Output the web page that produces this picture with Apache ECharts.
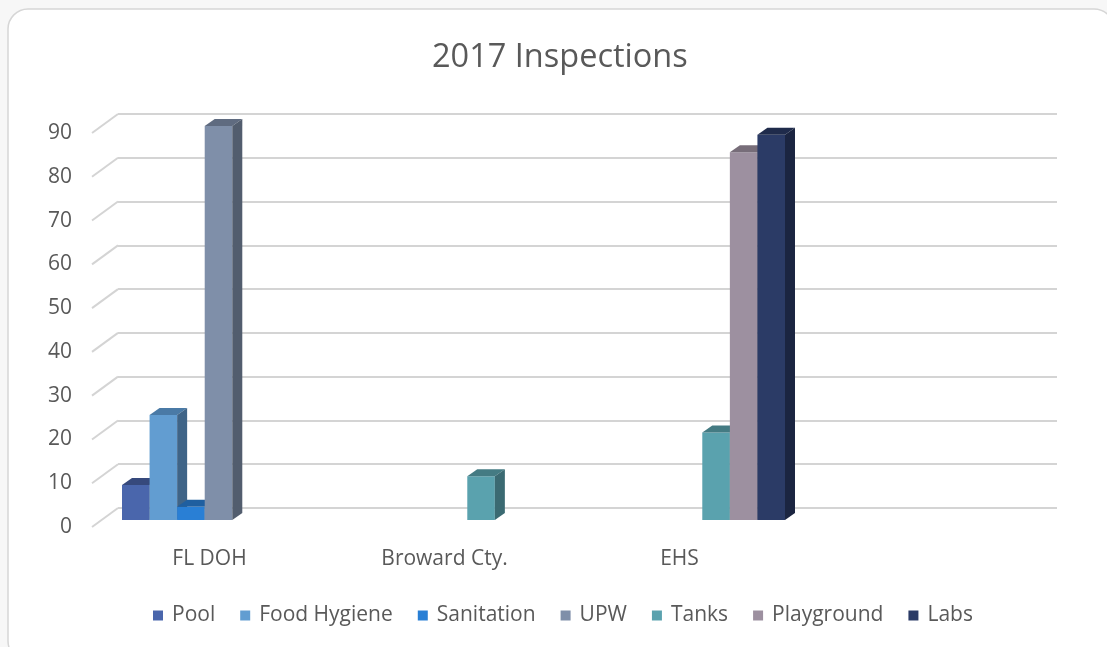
<!DOCTYPE html>
<html>
<head>
<meta charset="utf-8">
<title>2017 Inspections</title>
<script src="https://cdn.jsdelivr.net/npm/echarts@6/dist/echarts.min.js"></script>
<style>
  html, body { margin: 0; padding: 0; background: #f7f7f7; }
  #chart { width: 1107px; height: 647px; }
</style>
</head>
<body>
<div id="chart"></div>
<script>
// 数据
const categories = ['FL DOH', 'Broward Cty.', 'EHS', '']
const seriesNames = ['Pool', 'Food Hygiene', 'Sanitation', 'UPW', 'Tanks', 'Playground', 'Labs']
const pool = [8, null, null, null]
const foodHygiene = [24, null, null, null]
const sanitation = [3, null, null, null]
const upw = [90, null, null, null]
const tanks = [null, 10, 20, null]
const playground = [null, null, 84, null]
const labs = [null, null, 88, null]
const yTicks = [0, 10, 20, 30, 40, 50, 60, 70, 80, 90]

const seriesValues = [pool, foodHygiene, sanitation, upw, tanks, playground, labs]

// 颜色: 正面 / 顶面 / 侧面
const frontColors = ['#4a66ac', '#629dd1', '#297fd5', '#7f8fa9', '#5aa2ae', '#9d90a0', '#2b3b66']
const topColors = ['#36497c', '#4a7aa6', '#1f5fa0', '#5f6b80', '#447b83', '#776d79', '#1f2b4b']
const sideColors = ['#2f406d', '#3f6487', '#1b5288', '#525d6e', '#3b6a72', '#675e69', '#1b2541']

const textColor = '#595959'
const font = 'Open Sans'
const gridColor = '#d4d4d4'

// 立体偏移
const floorDx = 26
const floorDy = 19
const barDx = 10
const barDy = 7

const chart = echarts.init(document.getElementById('chart'))

function barItem(k) {
  return function (params, api) {
    const cat = api.value(0)
    const val = api.value(1)
    const base = api.coord([cat, 0])
    const top = api.coord([cat, val])
    const band = api.size([1, 0])[0]
    const cluster = band * 193 / 235
    const slot = cluster / 7
    const x0 = base[0] - cluster / 2 + k * slot
    const x1 = x0 + slot
    return {
      type: 'group',
      children: [
        {
          type: 'rect',
          shape: { x: x0, y: top[1], width: slot, height: base[1] - top[1] },
          style: { fill: frontColors[k] },
        },
        {
          type: 'polygon',
          shape: { points: [[x0, top[1]], [x0 + barDx, top[1] - barDy], [x1 + barDx, top[1] - barDy], [x1, top[1]]] },
          style: { fill: topColors[k] },
        },
        {
          type: 'polygon',
          shape: { points: [[x1, top[1]], [x1 + barDx, top[1] - barDy], [x1 + barDx, base[1] - barDy], [x1, base[1]]] },
          style: { fill: sideColors[k] },
        },
      ],
    }
  }
}

const barSeries = seriesNames.map((name, k) => ({
  name: name,
  type: 'custom',
  xAxisIndex: 1,
  yAxisIndex: 1,
  itemStyle: { color: frontColors[k] },
  renderItem: barItem(k),
  data: seriesValues[k]
    .map((v, i) => (v === null ? null : [i, v]))
    .filter(d => d !== null),
  z: 3,
}))

// 左侧斜线
const wallSeries = {
  type: 'custom',
  xAxisIndex: 0,
  yAxisIndex: 0,
  silent: true,
  z: 1,
  renderItem: function (params, api) {
    const p = api.coord([0, api.value(1)])
    const x = params.coordSys.x
    return {
      type: 'line',
      shape: { x1: x, y1: p[1], x2: x + floorDx, y2: p[1] - floorDy },
      style: { stroke: gridColor, lineWidth: 2 },
    }
  },
  data: yTicks.map(v => [0, v]),
}

const hiddenX = {
  type: 'category',
  data: categories,
  axisLine: { show: false },
  axisTick: { show: false },
  axisLabel: { show: false },
  splitLine: { show: false },
}
const hiddenY = {
  type: 'value',
  min: 0,
  max: 90,
  interval: 10,
  axisLine: { show: false },
  axisTick: { show: false },
  axisLabel: { show: false },
  splitLine: { show: false },
}

const option = {
  backgroundColor: '#f7f7f7',
  animation: false,
  graphic: [
    {
      type: 'rect',
      z: -10,
      shape: { x: 8, y: 9, width: 1106, height: 652, r: 20 },
      style: { fill: '#ffffff', stroke: '#d6d6d6', lineWidth: 1.5 },
    },
  ],
  title: {
    text: '2017 Inspections',
    left: 432,
    top: 41,
    padding: 0,
    textStyle: { fontFamily: font, fontSize: 32.5, fontWeight: 'normal', color: textColor },
  },
  legend: {
    bottom: 21,
    left: 153,
    padding: 0,
    icon: 'rect',
    itemWidth: 10,
    itemHeight: 10,
    itemGap: 25,
    textStyle: { fontFamily: font, fontSize: 21, color: textColor, padding: [0, 0, 0, 4] },
    data: seriesNames,
  },
  grid: [
    // 前平面 (标签)
    { left: 92, top: 133, width: 940, height: 394 },
    // 柱子平面
    { left: 101, top: 126, width: 940, height: 394 },
    // 后平面 (网格线)
    { left: 118, top: 114, width: 939, height: 394 },
  ],
  xAxis: [
    {
      type: 'category',
      gridIndex: 0,
      data: categories,
      axisLine: { show: false },
      axisTick: { show: false },
      splitLine: { show: false },
      axisLabel: { margin: 22, fontFamily: font, fontSize: 21, color: textColor },
    },
    Object.assign({ gridIndex: 1 }, hiddenX),
    Object.assign({ gridIndex: 2 }, hiddenX),
  ],
  yAxis: [
    {
      type: 'value',
      gridIndex: 0,
      min: 0,
      max: 90,
      interval: 10,
      axisLine: { show: false },
      axisTick: { show: false },
      splitLine: { show: false },
      axisLabel: { margin: 20, fontFamily: font, fontSize: 21, color: textColor },
    },
    Object.assign({ gridIndex: 1 }, hiddenY),
    Object.assign({}, hiddenY, {
      gridIndex: 2,
      splitLine: { show: true, lineStyle: { color: gridColor, width: 2 } },
    }),
  ],
  series: [wallSeries].concat(barSeries),
}

chart.setOption(option)
</script>
</body>
</html>
